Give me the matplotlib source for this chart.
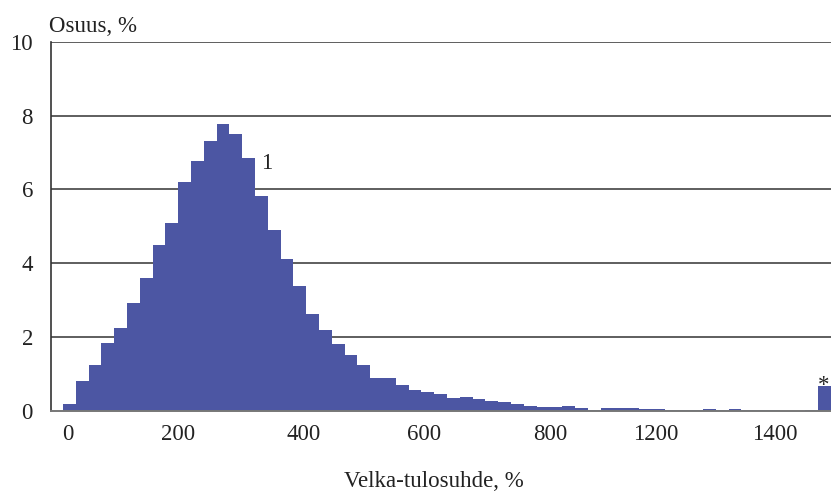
import numpy as np
import matplotlib
matplotlib.use("Agg")
import matplotlib.pyplot as plt

# osuus (%) per velka-tulosuhde -luokka, viimeinen pylväs = yli 1475 % (*)
shares = [0.19, 0.81, 1.24, 1.84, 2.24, 2.92, 3.59, 4.49, 5.08, 6.19,
          6.76, 7.32, 7.76, 7.51, 6.84, 5.81, 4.89, 4.11, 3.38, 2.62,
          2.19, 1.81, 1.51, 1.24, 0.89, 0.89, 0.70, 0.57, 0.51, 0.46,
          0.35, 0.38, 0.32, 0.27, 0.24, 0.19, 0.14, 0.11, 0.11, 0.14,
          0.08, 0.03, 0.07, 0.07, 0.07, 0.05, 0.05, 0.03, 0.02, 0.02,
          0.05, 0.02, 0.05, 0.02, 0.02, 0.02, 0.01, 0.01, 0.02, 0.67]
tick_labels = ["0", "200", "400", "600", "800", "1200", "1400"]
tick_pos = [0.35, 8.97, 18.83, 28.2, 38.1, 46.3, 55.6]

plt.rcParams["font.family"] = ["Liberation Serif", "DejaVu Serif"]
plt.rcParams["font.size"] = 16.5

W, H = 831, 492
fig = plt.figure(figsize=(W / 100, H / 100), dpi=100)
ax = fig.add_axes([51 / W, 1 - 411 / H, 1 - 51 / W, (411 - 41.7) / H])

x = np.arange(len(shares))
ax.bar(x, shares, width=1.0, align="edge", color="#4c56a3",
       linewidth=0, antialiased=False, zorder=2)

ax.set_xlim(-0.94, 60)
ax.set_ylim(0, 10)
ax.set_yticks([0, 2, 4, 6, 8, 10])
ax.set_xticks(tick_pos)
ax.set_xticklabels(tick_labels)
ax.tick_params(axis="both", length=0, colors="#222222")
ax.tick_params(axis="y", pad=13)
ax.tick_params(axis="x", pad=9)

for yv in [2, 4, 6, 8, 10]:
    ax.axhline(yv, color="#5e5e5e", lw=1.4, zorder=1)

for s in ["top", "right"]:
    ax.spines[s].set_visible(False)
ax.spines["left"].set_color("#333333")
ax.spines["left"].set_linewidth(1.2)
ax.spines["bottom"].set_color("#777777")
ax.spines["bottom"].set_linewidth(1.4)

ax.text(15.94, 6.54, "1", ha="center", va="baseline", color="#222222")
ax.text(59.4, 0.54, "*", ha="center", va="baseline", color="#222222")

fig.text(49 / W, 1 - 32 / H, "Osuus, %", ha="left", va="baseline", color="#222222")
fig.text(433.5 / W, 1 - 487 / H, "Velka-tulosuhde, %", ha="center", va="baseline",
         color="#222222")

fig.savefig("out.png", dpi=100)
